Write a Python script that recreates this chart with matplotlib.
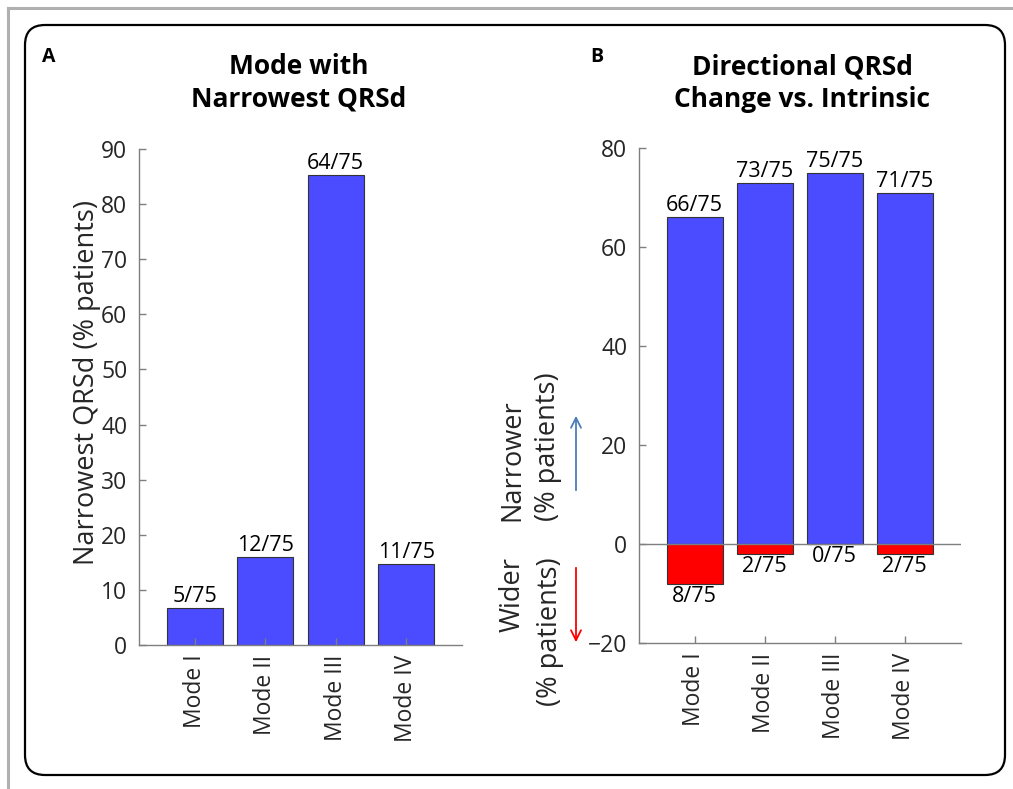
import matplotlib as mpl
mpl.use('agg')
import matplotlib.pyplot as plt
from matplotlib.patches import FancyBboxPatch
from matplotlib.lines import Line2D

# patient counts out of 75
n_total = 75
modes = ['Mode I', 'Mode II', 'Mode III', 'Mode IV']
narrowest = [5, 12, 64, 11]
narrower = [66, 73, 75, 71]
wider = [8, 2, 0, 2]

W, H = 1013, 789
plt.rcParams['font.family'] = ['Open Sans', 'DejaVu Sans']

blue = '#4b4bff'
red = '#ff0000'
edge = '#333333'
axcol = '#7f7f7f'
txtcol = '#262626'

fig = plt.figure(figsize=(W / 100, H / 100), dpi=100)


def px(x, y):
    # pixel position (from top-left) to figure fraction
    return x / W, 1 - y / H


def style_axes(ax):
    for s in ['top', 'right']:
        ax.spines[s].set_visible(False)
    for s in ['left', 'bottom']:
        ax.spines[s].set_color(axcol)
        ax.spines[s].set_linewidth(1.0)
    ax.tick_params(direction='in', length=5, width=1.0, color=axcol,
                   labelcolor=txtcol, labelsize=16.5, pad=8)
    ax.tick_params(axis='x', rotation=90, pad=7)
    ax.set_xticks(range(1, 5))
    ax.set_xticklabels(modes)
    ax.set_xlim(0.2, 4.8)


pos = range(1, 5)
lab_fs = 15.5

# A: mode giving the narrowest QRSd
axA = fig.add_axes([138.6 / W, 1 - 645 / H, 323.8 / W, 496 / H])
pct = [n * 100 / n_total for n in narrowest]
axA.bar(pos, pct, width=0.8, color=blue, edgecolor=edge, linewidth=0.8)
for x, n, v in zip(pos, narrowest, pct):
    axA.text(x, v + 0.2, f'{n}/{n_total}', ha='center', va='bottom',
             fontsize=lab_fs, color='black')
axA.set_ylim(0, 90)
axA.set_yticks(range(0, 91, 10))
style_axes(axA)
axA.set_ylabel('Narrowest QRSd (% patients)', fontsize=19.5, color=txtcol)
axA.yaxis.set_label_coords(-0.115, 0.53)

# B: direction of QRSd change against intrinsic conduction
axB = fig.add_axes([638.5 / W, 1 - 643 / H, 322 / W, 495 / H])
axB.bar(pos, narrower, width=0.8, color=blue, edgecolor=edge, linewidth=0.8)
axB.bar(pos, [-n for n in wider], width=0.8, color=red, edgecolor=edge,
        linewidth=0.8)
axB.axhline(0, color=axcol, lw=1.0, zorder=3)
for x, n in zip(pos, narrower):
    axB.text(x, n + 0.2, f'{n}/{n_total}', ha='center', va='bottom',
             fontsize=lab_fs, color='black')
for x, n in zip(pos, wider):
    axB.text(x, -n - 0.5, f'{n}/{n_total}', ha='center', va='top',
             fontsize=lab_fs, color='black')
axB.set_ylim(-20, 80)
axB.set_yticks(range(-20, 81, 20))
style_axes(axB)

# split y label with direction arrows
for s, x, y, va in [('Narrower', 512, 521, 'bottom'),
                    ('(% patients)', 548, 521, 'bottom'),
                    ('Wider', 513, 557, 'top'),
                    ('(% patients)', 550, 557, 'top')]:
    fx, fy = px(x, y)
    fig.text(fx, fy, s, rotation=90, ha='center', va=va, fontsize=19.5,
             color=txtcol)

axB.annotate('', xy=px(576, 413), xytext=px(576, 493),
             xycoords='figure fraction', textcoords='figure fraction',
             arrowprops=dict(arrowstyle='->', color='#4a7ebb', lw=1.3,
                             mutation_scale=18))
axB.annotate('', xy=px(576, 645), xytext=px(576, 565),
             xycoords='figure fraction', textcoords='figure fraction',
             arrowprops=dict(arrowstyle='->', color=red, lw=1.3,
                             mutation_scale=18))

# titles and panel letters
fig.text(*px(299, 83), 'Mode with\nNarrowest QRSd', ha='center', va='center',
         fontsize=19, fontweight='bold', linespacing=1.25)
fig.text(*px(802, 83), 'Directional QRSd\nChange vs. Intrinsic', ha='center',
         va='center', fontsize=19, fontweight='bold', linespacing=1.25)
fig.text(*px(49, 57), 'A', ha='center', va='center', fontsize=14,
         fontweight='bold')
fig.text(*px(597, 57), 'B', ha='center', va='center', fontsize=14,
         fontweight='bold')

# outer frames
frame = FancyBboxPatch((25 + 20, H - 775 + 20), 980 - 40, 750 - 40,
                       boxstyle='round,pad=20', transform=None,
                       facecolor='none', edgecolor='black', linewidth=1.6)
fig.add_artist(frame)
fig.add_artist(Line2D([8, W], [H - 8, H - 8], transform=None,
                      color='#b0b0b0', linewidth=2.2))
fig.add_artist(Line2D([8, 8], [0, H - 8], transform=None,
                      color='#b0b0b0', linewidth=2.2))

fig.savefig('out.png', dpi=100)
